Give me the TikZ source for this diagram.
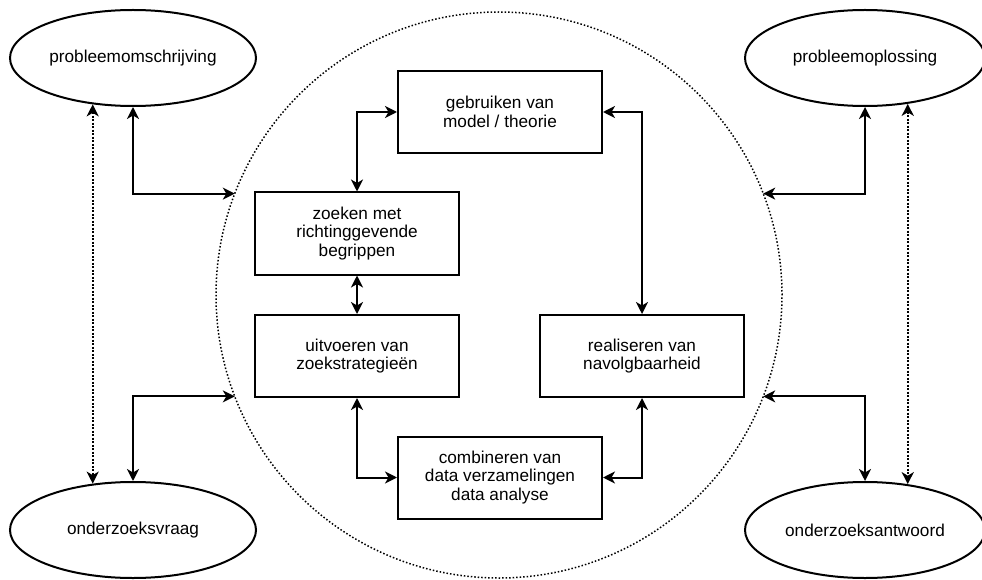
\documentclass[tikz,border=0pt]{standalone}
\usepackage{fontspec}
\setmainfont{Liberation Sans}
\usepackage{tikz}
\usetikzlibrary{shapes,arrows.meta,positioning,calc}

\begin{document}
\begin{tikzpicture}[
    x=1pt,y=-1pt,
    bl/.style   = {rectangle,draw=black,line width=2pt,fill=white,align=center,
                   font=\fontsize{17.2}{18.3}\selectfont,minimum width=204pt,minimum height=82pt,
                   inner sep=0pt},
    el/.style   = {ellipse,draw=black,line width=2pt,align=center,
                   font=\fontsize{17.2}{18.3}\selectfont,minimum width=246pt,minimum height=96pt,
                   inner sep=0pt},
    fl/.style   = {{Stealth[length=12pt,width=12pt,inset=3.5pt]}-{Stealth[length=12pt,width=12pt,inset=3.5pt]},
                   line width=2pt},
    dt/.style   = {fl,dash pattern=on 2.2pt off 1.3pt,line width=2.4pt},
    rand/.style = {circle,draw=black,line width=1.5pt,dash pattern=on 1.5pt off 2pt,
                   minimum size=566pt,inner sep=0pt,outer sep=0pt},
  ]
  \useasboundingbox (0,0) rectangle (982,580);

  \node[rand] (kring) at (499,295) {};

  % ellipsen buiten de kring
  \node[el] (pom)  at (133,58)  {probleemomschrijving};
  \node[el] (vrg)  at (133,530) {onderzoeksvraag};
  \node[el,minimum width=240pt] (opl)  at (865,58)  {probleemoplossing};
  \node[el,minimum width=240pt] (antw) at (865,530) {onderzoeksantwoord};

  % blokken binnen de kring
  \node[bl] (geb) at (500,112)   {gebruiken van\\model / theorie};
  \node[bl] (zoe) at (357,233.5) {zoeken met\\richtinggevende\\begrippen};
  \node[bl] (uit) at (357,356)   {uitvoeren van\\zoekstrategieën};
  \node[bl] (rea) at (642,356)   {realiseren van\\navolgbaarheid};
  \node[bl] (com) at (500,477.5) {combineren van\\data verzamelingen\\data analyse};

  \draw[fl] (geb.west) -| (zoe.north);
  \draw[fl] (geb.east) -| (rea.north);
  \draw[fl] (zoe) -- (uit);
  \draw[fl] (uit.south) |- (com.west);
  \draw[fl] (rea.south) |- (com.east);

  \draw[fl] (pom.south)  |- (kring.159);
  \draw[fl] (vrg.north)  |- (kring.201);
  \draw[fl] (opl.south)  |- (kring.21);
  \draw[fl] (antw.north) |- (kring.-21);

  \draw[dt] (pom.229) -- (vrg.131);
  \draw[dt] (opl.313) -- (antw.47);

\end{tikzpicture}
\end{document}
